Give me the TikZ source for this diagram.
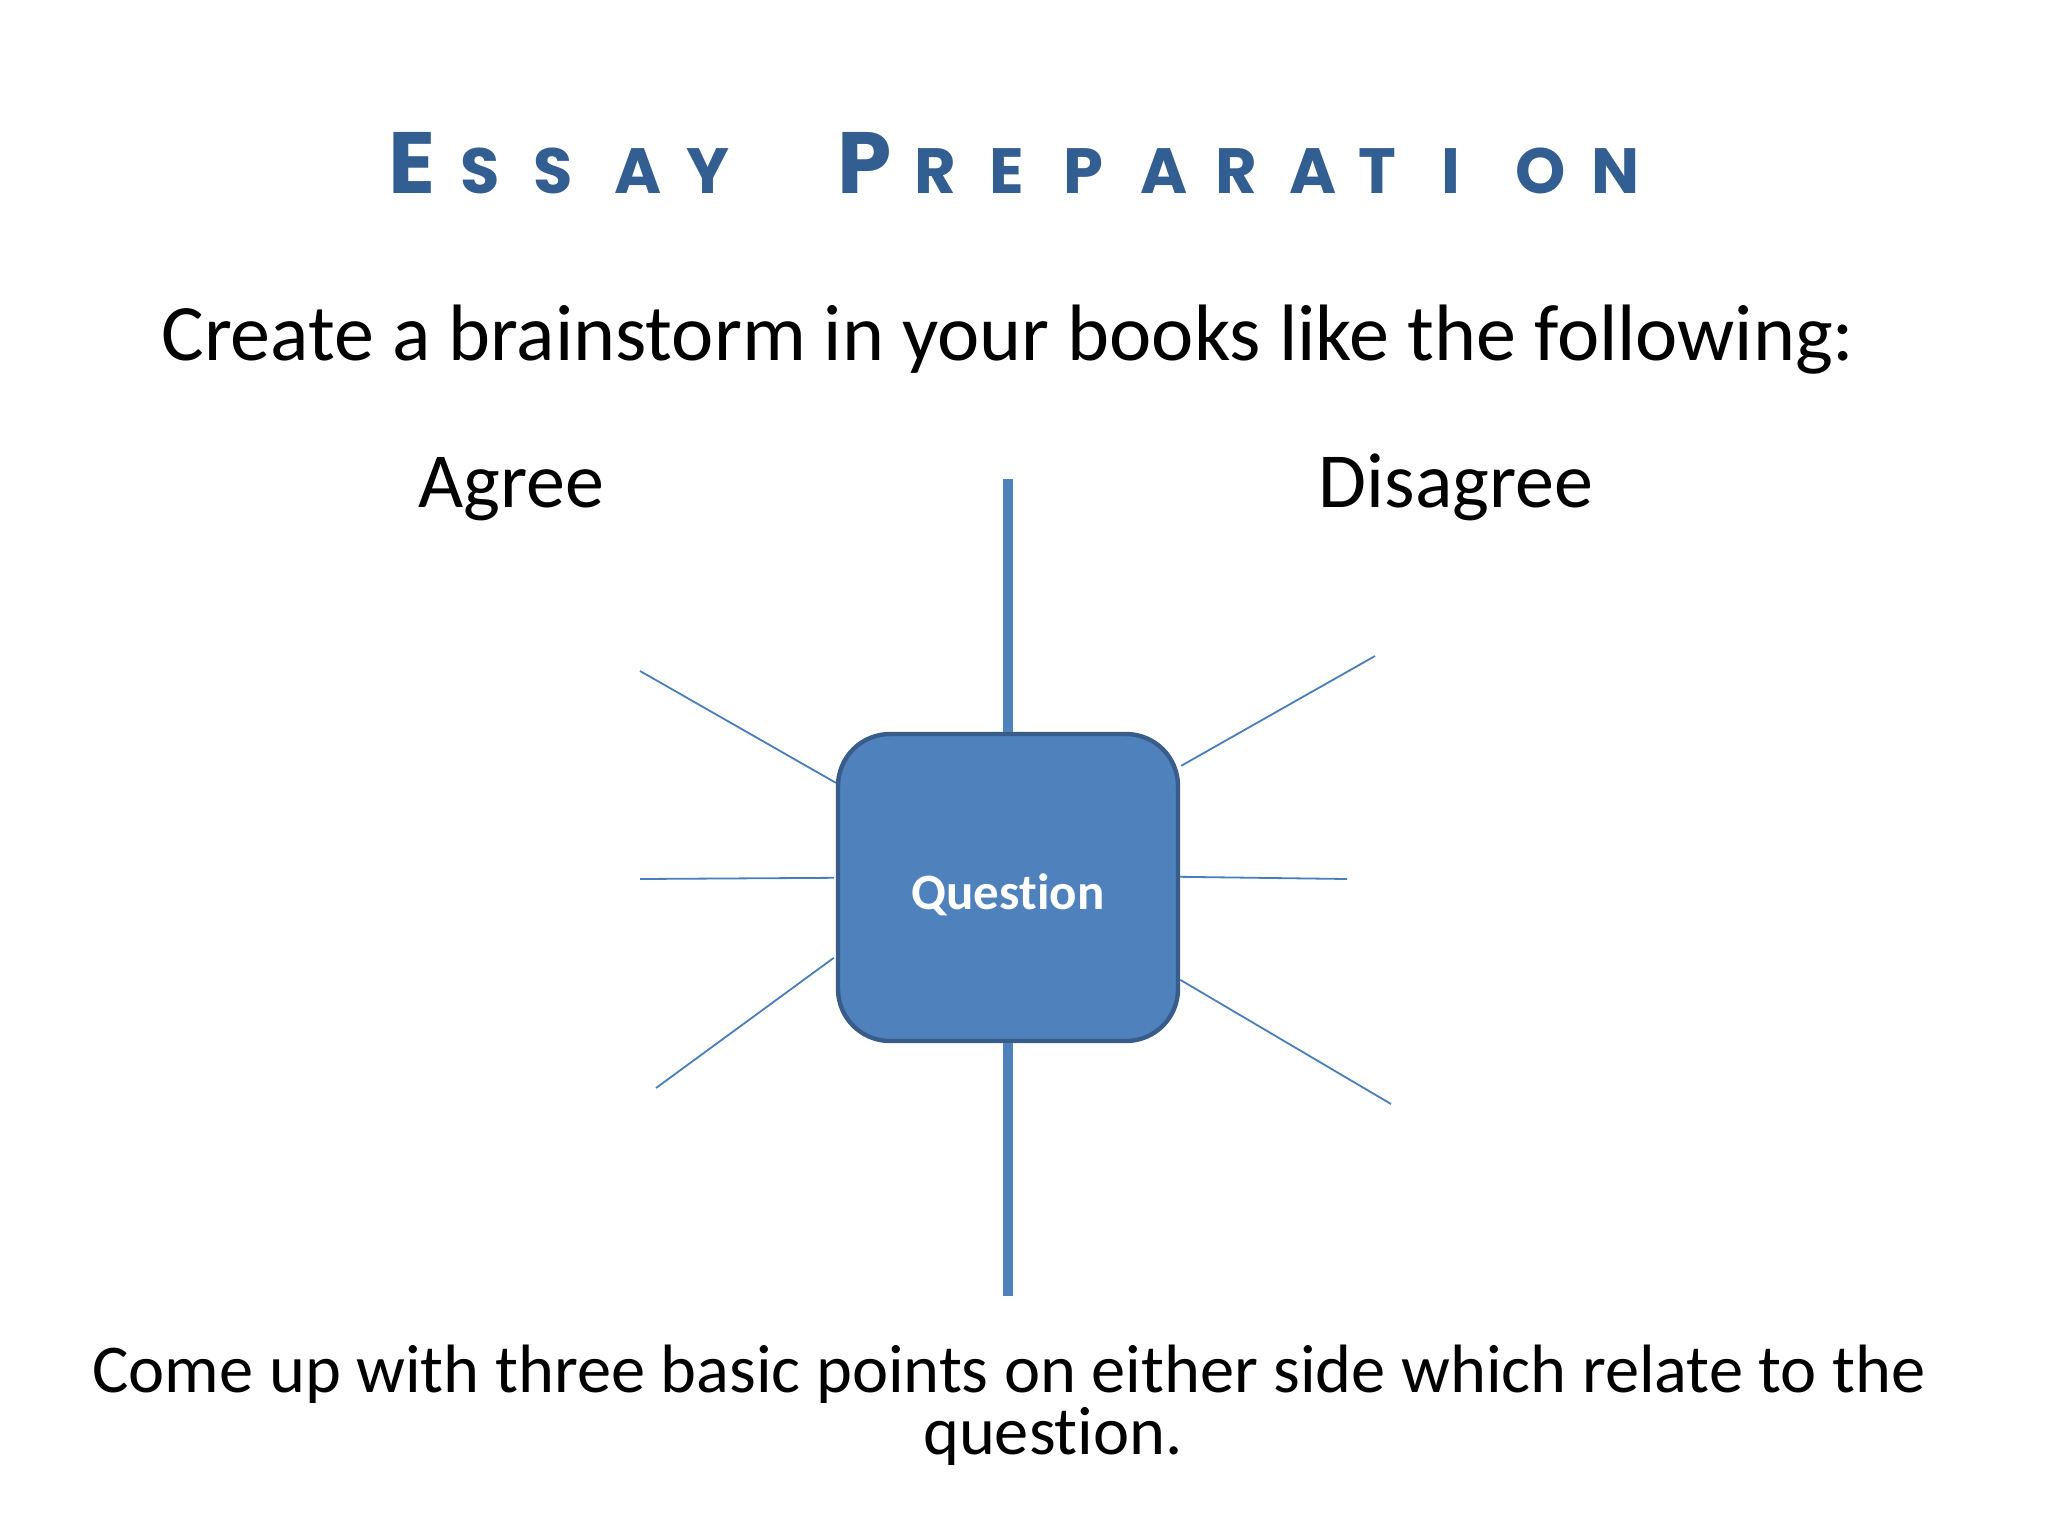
\documentclass[tikz,border=0pt]{standalone}
\usepackage{fontspec}
\setmainfont{Carlito}[Ligatures=NoCommon]
\newfontfamily\titlefont{Poppins}
\usetikzlibrary{calc}
\definecolor{titleblue}{RGB}{51,94,146}
\definecolor{boxfill}{RGB}{79,129,189}
\definecolor{boxline}{RGB}{56,93,138}
\definecolor{thinblue}{RGB}{74,126,187}
\newcommand\TL[3]{\makebox[#2pt][l]{\fontsize{#1}{#1}\selectfont #3}}
\begin{document}
\begin{tikzpicture}[x=0.5pt,y=-0.5pt,
  plain/.style={inner sep=0pt, text=black},
  qbox/.style={draw=boxline, line width=2.2pt, fill=boxfill, rounded corners=26pt,
    minimum width=170pt, minimum height=153.5pt, inner sep=0pt,
    text=white, font=\fontsize{25.5}{30}\selectfont\bfseries},
  spoke/.style={draw=thinblue, line width=0.9pt},
  axis/.style={draw=boxfill, line width=5pt}]
\useasboundingbox[fill=white] (0,0) rectangle (2048,1536);

\node[anchor=base west, inner sep=0pt, text=titleblue, font=\titlefont\bfseries] (title) at (388,193)
  {\TL{43.5}{36}{E}\TL{32}{36.5}{S}\TL{32}{40.5}{S}\TL{32}{36}{A}\TL{32}{75.5}{Y}%
   \TL{43.5}{38.5}{P}\TL{32}{37.5}{R}\TL{32}{37}{E}\TL{32}{38.5}{P}\TL{32}{37.5}{A}%
   \TL{32}{37}{R}\TL{32}{34.5}{A}\TL{32}{41.5}{T}\TL{32}{37}{I}\TL{32}{38}{O}\TL{32}{25.5}{N}};

\node[plain, anchor=base, font=\fontsize{40}{48}\selectfont] (create) at (1008,360)
  {Create a brainstorm in your books like the following:};
\node[plain, anchor=base, font=\fontsize{39}{47}\selectfont] (agree) at (511,507) {Agree};
\node[plain, anchor=base, font=\fontsize{39}{47}\selectfont] (disagree) at (1456,507) {Disagree};

\node[qbox] (q) at (1008,887.5) {\raisebox{-11pt}[0pt][0pt]{Question}};

\coordinate (top) at (1008,479);
\coordinate (bot) at (1008,1296);
\draw[axis] (q.north) -- (top);
\draw[axis] (q.south) -- (bot);

\coordinate (ul) at (640,671);
\coordinate (ml) at (640,879);
\coordinate (ll) at (656,1088);
\coordinate (ur) at (1375,656);
\coordinate (mr) at (1347,879);
\coordinate (lr) at (1391,1104);
\draw[spoke] ($(q.north west)+(0,51)$) -- (ul);
\draw[spoke] ($(q.north west)+(-2,146)$) -- (ml);
\draw[spoke] ($(q.north west)+(-2,226)$) -- (ll);
\draw[spoke] ($(q.north east)+(1,34)$) -- (ur);
\draw[spoke] ($(q.north east)+(0,145)$) -- (mr);
\draw[spoke] ($(q.north east)+(0,248)$) -- (lr);

\node[plain, anchor=base, align=center, font=\fontsize{34.2}{31}\selectfont] (bottom) at (1009,1454)
  {Come up with three basic points on either side which relate to the\\\hspace*{44pt}question.};
\end{tikzpicture}
\end{document}
